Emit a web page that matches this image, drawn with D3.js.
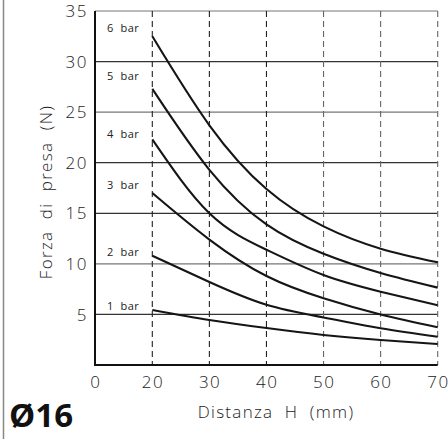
<!DOCTYPE html>
<html><head><meta charset="utf-8">
<script src="https://cdn.jsdelivr.net/npm/d3@7"></script>
<style>
html,body{margin:0;padding:0;background:#fff;}
svg{display:block;}
text{font-family:"Open Sans","DejaVu Sans",sans-serif;white-space:pre;}
</style></head>
<body><svg id="c" width="448" height="439"></svg>
<script>
const distances = [20, 30, 40, 50, 60, 70];
const xTicks = [0, 20, 30, 40, 50, 60, 70];
const yTicks = [5, 10, 15, 20, 25, 30, 35];
const seriesNames = ["6 bar", "5 bar", "4 bar", "3 bar", "2 bar", "1 bar"];
const bar6 = [32.5, 23.7, 17.4, 13.7, 11.5, 10.15];
const bar5 = [27.3, 19.3, 13.9, 11.0, 9.1, 7.65];
const bar4 = [22.3, 15.0, 11.4, 8.9, 7.25, 5.9];
const bar3 = [17.0, 12.4, 8.8, 6.6, 5.0, 3.73];
const bar2 = [10.8, 8.2, 5.95, 4.7, 3.63, 2.8];
const bar1 = [5.44, 4.45, 3.65, 2.97, 2.47, 2.08];
const labelLevels = [33.3, 28.6, 22.8, 17.8, 11.2, 5.8];
const seriesValues = [bar6, bar5, bar4, bar3, bar2, bar1];

const svg = d3.select("#c");
const x = d3.scaleLinear().domain([0, 20, 70]).range([95, 152.3, 437.7]);
const y = d3.scaleLinear().domain([0, 35]).range([365, 11]);

// left frame line
svg.append("line").attr("x1", 3.5).attr("x2", 3.5).attr("y1", 0).attr("y2", 439)
  .attr("stroke", "#888").attr("stroke-width", 1.5);

// horizontal grid
svg.append("g").selectAll("line").data(yTicks).join("line")
  .attr("x1", x(0)).attr("x2", x(70))
  .attr("y1", d => y(d)).attr("y2", d => y(d))
  .attr("stroke", d => (d === 10 || d === 35 || d === 25) ? "#777" : "#333")
  .attr("stroke-width", 1.2);

// vertical dashed grid
svg.append("g").selectAll("line").data(distances).join("line")
  .attr("x1", d => x(d)).attr("x2", d => x(d))
  .attr("y1", y(35)).attr("y2", y(0))
  .attr("stroke", d => (d === 50 || d === 60 || d === 70) ? "#666" : "#222")
  .attr("stroke-width", 1.1)
  .attr("stroke-dasharray", "6,4");

// axes lines
svg.append("line").attr("x1", x(0)).attr("x2", x(0)).attr("y1", y(35)).attr("y2", y(0) + 1)
  .attr("stroke", "#111").attr("stroke-width", 2);
svg.append("line").attr("x1", x(0)).attr("x2", x(70)).attr("y1", y(0)).attr("y2", y(0))
  .attr("stroke", "#111").attr("stroke-width", 2);

// tick labels
svg.append("g").selectAll("text").data(yTicks).join("text")
  .attr("x", 88).attr("y", d => y(d))
  .attr("dy", "0.36em").attr("text-anchor", "end")
  .attr("font-size", 17).attr("font-weight", 300).attr("fill", "#222")
  .attr("letter-spacing", 1.5)
  .text(d => d);
svg.append("g").selectAll("text").data(xTicks).join("text")
  .attr("x", d => x(d) + 0.75).attr("y", 382)
  .attr("dy", "0.36em").attr("text-anchor", "middle")
  .attr("font-size", 17).attr("font-weight", 300).attr("fill", "#222")
  .attr("letter-spacing", 1.5)
  .text(d => d);

// curves
const line = d3.line().x((d, i) => x(distances[i])).y(d => y(d)).curve(d3.curveNatural);
svg.append("g").selectAll("path").data(seriesValues).join("path")
  .attr("d", line).attr("fill", "none").attr("stroke", "#151515").attr("stroke-width", 2.1);

// series labels
svg.append("g").selectAll("text").data(seriesNames).join("text")
  .attr("x", 107).attr("y", (d, i) => y(labelLevels[i]))
  .attr("dy", "0.36em")
  .attr("font-size", 11).attr("fill", "#222")
  .attr("letter-spacing", 0.5)
  .text(d => d.replace(" ", "  "));

// axis titles
svg.append("text").attr("x", 276).attr("y", 412).attr("dy", "0.36em")
  .attr("text-anchor", "middle").attr("font-size", 17).attr("font-weight", 300)
  .attr("fill", "#222").attr("letter-spacing", 1.3)
  .text("Distanza  H  (mm)");
svg.append("text").attr("transform", "translate(46,192) rotate(-90)")
  .attr("dy", "0.36em").attr("text-anchor", "middle").attr("font-size", 17).attr("font-weight", 300)
  .attr("fill", "#222").attr("letter-spacing", 1.3)
  .text("Forza  di  presa  (N)");

svg.append("text").attr("x", 9).attr("y", 427)
  .attr("font-family", "Liberation Sans, Arial, sans-serif")
  .attr("font-size", 33).attr("font-weight", "bold").attr("fill", "#111")
  .text("Ø16");
</script></body></html>
